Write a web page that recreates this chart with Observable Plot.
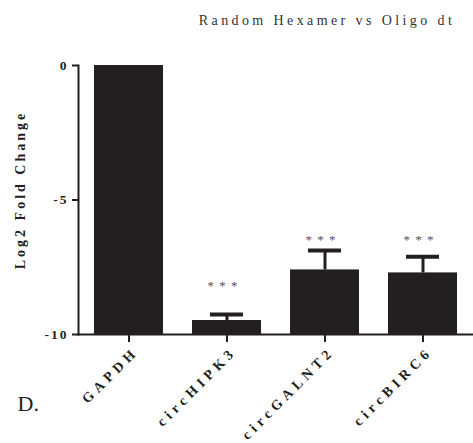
<!DOCTYPE html>
<html>
<head>
<meta charset="utf-8">
<script src="https://cdn.jsdelivr.net/npm/d3@7"></script>
<script src="https://cdn.jsdelivr.net/npm/@observablehq/plot@0.6"></script>
<style>
  html, body { margin: 0; padding: 0; background: #fff; }
  #chart svg { font-family: "Liberation Serif", "Times New Roman", serif; }
  text[aria-label="title"] { letter-spacing: 3.4px; }
  g[aria-label="x-axis tick label"] text { letter-spacing: 4.5px; }
  g[aria-label="y-axis tick label"] text { letter-spacing: 2px; }
  text[aria-label="ylabel"] { letter-spacing: 3px; }
  text[aria-label="stars"] { letter-spacing: 1px; }
</style>
</head>
<body>
<div id="chart"></div>
<script>
const categories = ["GAPDH", "circHIPK3", "circGALNT2", "circBIRC6"];
const means = [0, -9.48, -7.60, -7.71];
const errors = [0, 0.22, 0.72, 0.60];
const sigLabels = ["", "* * *", "* * *", "* * *"];
const sigY = [null, -8.1, -6.4, -6.4];
const yTicks = [0, -5, -10];
const titleText = "Random Hexamer vs Oligo dt";
const yLabelText = "Log2 Fold Change";
const panelLabel = "D.";

const data = categories.map((c, i) => ({
  cat: c, mean: means[i], err: errors[i], top: means[i] + errors[i],
  sig: sigLabels[i], sigY: sigY[i]
}));
const withErr = data.filter(d => d.err > 0);
const withSig = data.filter(d => d.sig);

const ink = "#231f20";

const chart = Plot.plot({
  width: 473,
  height: 443,
  marginLeft: 78,
  marginRight: 0,
  marginTop: 65,
  marginBottom: 109,
  x: { domain: categories, paddingInner: 0.3, paddingOuter: 0.15, label: null },
  y: { domain: [-10, 0], label: null },
  marks: [
    Plot.barY(data, { x: "cat", y1: () => -10, y2: "mean", fill: ink }),
    Plot.ruleX(withErr, { x: "cat", y1: "mean", y2: "top", stroke: ink, strokeWidth: 3 }),
    Plot.tickY(withErr, { x: "cat", y: "top", stroke: ink, strokeWidth: 4, insetLeft: 18, insetRight: 18 }),
    Plot.text(withSig, { x: "cat", y: "sigY", text: "sig", fontSize: 13, fill: "#555", dx: -4, dy: 2, ariaLabel: () => "stars" }),
    Plot.frame({ anchor: "left", stroke: ink, strokeWidth: 2 }),
    Plot.frame({ anchor: "bottom", stroke: ink, strokeWidth: 2 }),
    Plot.axisY({ ticks: yTicks, tickSize: 6, tickPadding: 4, fontSize: 13.5, fontWeight: "bold", stroke: ink, strokeWidth: 2, fill: ink, label: null, tickFormat: d => String(d) }),
    Plot.axisX({ tickSize: 8, text: null, stroke: ink, strokeWidth: 2, label: null }),
    Plot.axisX({ tickSize: 8, tickPadding: 3, tickRotate: -45, fontSize: 14, fontWeight: "bold", strokeOpacity: 0, fill: ink, label: null, dx: 7, dy: 4 }),
    Plot.text([titleText], { frameAnchor: "top", dx: 51, dy: -50, fontSize: 14, fill: "#333", ariaLabel: () => "title" }),
    Plot.text([yLabelText], { frameAnchor: "left", textAnchor: "middle", dx: -58, dy: -10, rotate: -90, fontSize: 14, fontWeight: "bold", fill: ink, ariaLabel: () => "ylabel" }),
    Plot.text([panelLabel], { frameAnchor: "bottom-left", dx: -61, dy: 76, fontSize: 22, fill: ink, ariaLabel: () => "panel" })
  ]
});
document.getElementById("chart").appendChild(chart);
</script>
</body>
</html>
